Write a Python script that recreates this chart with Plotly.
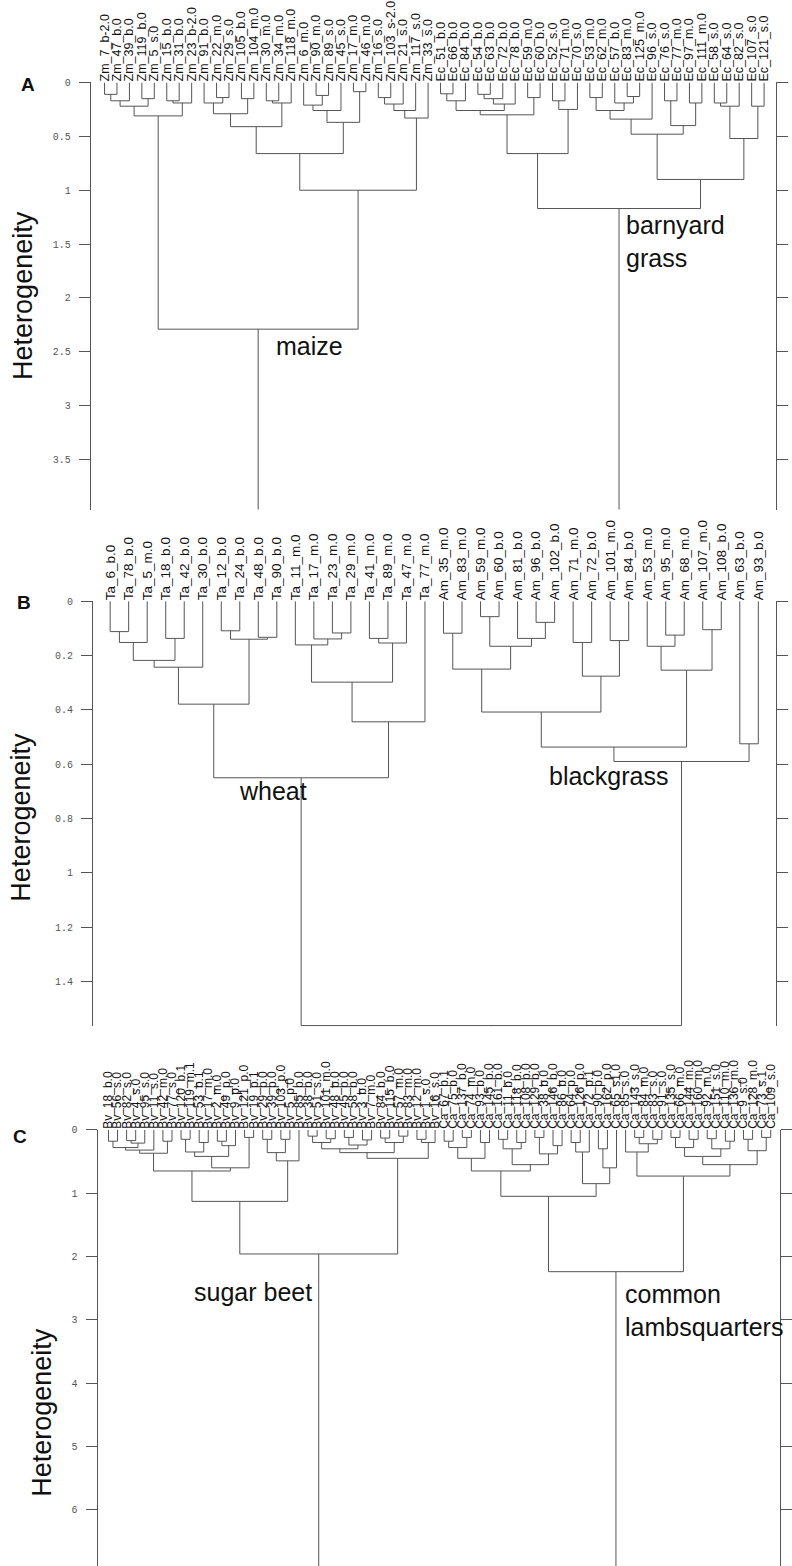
import plotly.graph_objects as go

W, H = 792, 1566

labels_A = [
    "Zm_7_b-2.0", "Zm_47_b.0", "Zm_39_b.0", "Zm_119_b.0", "Zm_5_s.0", "Zm_15_b.0", "Zm_31_b.0",
    "Zm_23_b-2.0", "Zm_91_b.0", "Zm_22_m.0", "Zm_29_s.0", "Zm_105_b.0", "Zm_104_m.0", "Zm_30_m.0",
    "Zm_34_m.0", "Zm_118_m.0", "Zm_6_m.0", "Zm_90_m.0", "Zm_89_s.0", "Zm_45_s.0", "Zm_17_m.0",
    "Zm_46_m.0", "Zm_16_s.0", "Zm_103_s-2.0", "Zm_21_s.0", "Zm_117_s.0", "Zm_33_s.0",
    "Ec_51_b.0", "Ec_66_b.0", "Ec_84_b.0", "Ec_54_b.0", "Ec_63_b.0", "Ec_72_b.0", "Ec_78_b.0",
    "Ec_59_m.0", "Ec_60_b.0", "Ec_52_s.0", "Ec_71_m.0", "Ec_70_s.0", "Ec_53_m.0", "Ec_62_m.0",
    "Ec_57_b.0", "Ec_83_m.0", "Ec_125_m.0", "Ec_96_s.0", "Ec_76_s.0", "Ec_77_m.0", "Ec_97_m.0",
    "Ec_111_m.0", "Ec_58_s.0", "Ec_64_s.0", "Ec_82_s.0", "Ec_107_s.0", "Ec_121_s.0",
]
# merges: (node name, left child, right child, height); ints are leaf indices
merges_A = [
    ("a1", 0, 1, 0.11), ("a2", "a1", 2, 0.17), ("a3", 3, 4, 0.15), ("a4", "a2", "a3", 0.22),
    ("a5", 5, 6, 0.17), ("a6", "a5", 7, 0.19), ("a7", "a4", "a6", 0.31),
    ("a8", 9, 10, 0.14), ("a9", 8, "a8", 0.19), ("a10", 11, 12, 0.15), ("a11", "a9", "a10", 0.29),
    ("a12", 13, 14, 0.17), ("a13", "a12", 15, 0.19), ("a14", "a11", "a13", 0.41),
    ("a15", 17, 18, 0.12), ("a16", 16, "a15", 0.21), ("a17", "a16", 19, 0.26),
    ("a18", 20, 21, 0.085), ("a19", "a17", "a18", 0.37), ("a20", "a14", "a19", 0.66),
    ("a21", 22, 23, 0.14), ("a22", "a21", 24, 0.20), ("a23", "a22", 25, 0.26), ("a24", "a23", 26, 0.33),
    ("a25", "a20", "a24", 1.0), ("a26", "a7", "a25", 2.29),
    ("e1", 27, 28, 0.105), ("e2", "e1", 29, 0.17), ("e3", 30, 31, 0.11), ("e4", "e3", 32, 0.15),
    ("e5", "e4", 33, 0.20), ("e6", "e2", "e5", 0.26), ("e7", 34, 35, 0.14), ("e8", "e6", "e7", 0.30),
    ("e9", 36, 37, 0.17), ("e10", "e9", 38, 0.25), ("e11", "e8", "e10", 0.66),
    ("e12", 39, 40, 0.14), ("e13", 42, 43, 0.13), ("e14", 41, "e13", 0.19), ("e15", "e12", "e14", 0.26),
    ("e16", "e15", 44, 0.34), ("e17", 45, 46, 0.17), ("e18", 47, 48, 0.19), ("e19", "e17", "e18", 0.40),
    ("e20", "e16", "e19", 0.48), ("e21", 49, 50, 0.19), ("e22", "e21", 51, 0.22), ("e23", 52, 53, 0.22),
    ("e24", "e22", "e23", 0.52), ("e25", "e20", "e24", 0.90), ("e26", "e11", "e25", 1.17),
]
roots_A = ["a26", "e26"]
yticks_A = [0, 0.5, 1, 1.5, 2, 2.5, 3, 3.5]
ytext_A = ["0", "0.5", "1", "1.5", "2", "2.5", "3", "3.5"]
ymax_A = 3.966

labels_B = [
    "Ta_6_b.0", "Ta_78_b.0", "Ta_5_m.0", "Ta_18_b.0", "Ta_42_b.0", "Ta_30_b.0", "Ta_12_b.0",
    "Ta_24_b.0", "Ta_48_b.0", "Ta_90_b.0", "Ta_11_m.0", "Ta_17_m.0", "Ta_23_m.0", "Ta_29_m.0",
    "Ta_41_m.0", "Ta_89_m.0", "Ta_47_m.0", "Ta_77_m.0",
    "Am_35_m.0", "Am_83_m.0", "Am_59_m.0", "Am_60_b.0", "Am_81_b.0", "Am_96_b.0", "Am_102_b.0",
    "Am_71_m.0", "Am_72_b.0", "Am_101_m.0", "Am_84_b.0", "Am_53_m.0", "Am_95_m.0", "Am_68_m.0",
    "Am_107_m.0", "Am_108_b.0", "Am_63_b.0", "Am_93_b.0",
]
merges_B = [
    ("w1", 0, 1, 0.112), ("w2", "w1", 2, 0.152), ("w3", 3, 4, 0.137), ("w4", "w2", "w3", 0.218),
    ("w5", "w4", 5, 0.243), ("w6", 6, 7, 0.109), ("w7", 8, 9, 0.133), ("w8", "w6", "w7", 0.14),
    ("w9", "w5", "w8", 0.379), ("w10", 12, 13, 0.117), ("w11", 11, "w10", 0.139),
    ("w12", 10, "w11", 0.161), ("w13", 14, 15, 0.137), ("w14", "w13", 16, 0.154),
    ("w15", "w12", "w14", 0.298), ("w16", "w15", 17, 0.444), ("w17", "w9", "w16", 0.65),
    ("b1", 18, 19, 0.118), ("b2", 20, 21, 0.057), ("b3", 23, 24, 0.078), ("b4", 22, "b3", 0.137),
    ("b5", "b2", "b4", 0.166), ("b6", "b1", "b5", 0.25), ("b7", 25, 26, 0.152), ("b8", 27, 28, 0.145),
    ("b9", "b7", "b8", 0.276), ("b10", "b6", "b9", 0.408), ("b11", 30, 31, 0.125),
    ("b12", 29, "b11", 0.166), ("b13", 32, 33, 0.105), ("b14", "b12", "b13", 0.254),
    ("b15", "b10", "b14", 0.537), ("b16", 34, 35, 0.525), ("b17", "b15", "b16", 0.59),
    ("rB", "w17", "b17", 1.562),
]
roots_B = ["rB"]
yticks_B = [0, 0.2, 0.4, 0.6, 0.8, 1.0, 1.2, 1.4]
ytext_B = ["0", "0.2", "0.4", "0.6", "0.8", "1", "1.2", "1.4"]
ymax_B = 1.565

labels_C = [
    "Bv_18_b.0", "Bv_56_s.0", "Bv_82_s.0", "Bv_4_s.0", "Bv_95_s.0", "Bv_11_s.0", "Bv_42_m.0",
    "Bv_77_s.0", "Bv_120_b.1", "Bv_119_m.1", "Bv_53_b.1", "Bv_17_m.0", "Bv_2_m.0", "Bv_49_p.0",
    "Bv_9_p.0", "Bv_121_p.0", "Bv_19_p.1", "Bv_29_p.0", "Bv_39_p.0", "Bv_103_p.0", "Bv_5_p.0",
    "Bv_85_b.0", "Bv_38_b.0", "Bv_51_s.0", "Bv_101_m.0", "Bv_48_b.0", "Bv_45_b.0", "Bv_58_b.0",
    "Bv_3_b.0", "Bv_7_m.0", "Bv_84_b.0", "Bv_115_b.0", "Bv_57_m.0", "Bv_83_m.0", "Bv_12_m.0",
    "Bv_1_s.0", "Bv_16_s.0",
    "Ca_67_b.1", "Ca_75_b.0", "Ca_137_b.0", "Ca_74_m.0", "Ca_93_b.0", "Ca_145_b.0", "Ca_161_b.0",
    "Ca_11_b.0", "Ca_118_b.0", "Ca_108_b.0", "Ca_129_b.0", "Ca_38_b.0", "Ca_146_b.0", "Ca_86_b.0",
    "Ca_64_p.0", "Ca_126_p.0", "Ca_72_p.1", "Ca_90_p.0", "Ca_162_p.0", "Ca_65_s1.0", "Ca_85_s.0",
    "Ca_143_s.0", "Ca_84_m.0", "Ca_83_s.0", "Ca_91_s.0", "Ca_135_s.0", "Ca_66_m.0", "Ca_144_m.0",
    "Ca_160_m.0", "Ca_92_m.0", "Ca_151_s.0", "Ca_110_m.0", "Ca_136_m.0", "Ca_9_s.0", "Ca_128_m.0",
    "Ca_73_s.1", "Ca_109_s.0",
]
merges_C = [
    ("c1", 0, 1, 0.18), ("c2", 2, 3, 0.17), ("c3", "c2", 4, 0.21), ("c4", "c1", "c3", 0.28),
    ("c5", "c4", 5, 0.32), ("c6", 6, 7, 0.18), ("c7", "c5", "c6", 0.37),
    ("c8", 8, 9, 0.15), ("c9", 10, 11, 0.20), ("c10", "c8", "c9", 0.35), ("c11", 12, 13, 0.18),
    ("c12", "c11", 14, 0.25), ("c13", "c10", "c12", 0.42), ("c14", 15, 16, 0.12),
    ("c15", "c13", "c14", 0.60), ("c16", "c7", "c15", 0.65),
    ("c17", 17, 18, 0.15), ("c18", 19, 20, 0.15), ("c19", "c17", "c18", 0.36), ("c20", "c19", 21, 0.49),
    ("c21", "c16", "c20", 1.13),
    ("c22", 22, 23, 0.10), ("c23", 24, 25, 0.14), ("c24", "c22", "c23", 0.20), ("c25", 26, 27, 0.12),
    ("c26", 28, 29, 0.16), ("c27", "c25", "c26", 0.24), ("c28", "c24", "c27", 0.30),
    ("c29", 30, 31, 0.13), ("c30", 32, 33, 0.10), ("c31", "c29", "c30", 0.20), ("c32", "c28", "c31", 0.36),
    ("c33", 34, 35, 0.15), ("c34", "c33", 36, 0.20), ("c35", "c32", "c34", 0.45),
    ("c36", "c21", "c35", 1.96),
    ("d1", 37, 38, 0.18), ("d2", 39, 40, 0.12), ("d3", "d1", "d2", 0.28), ("d4", 41, 42, 0.20),
    ("d5", "d3", "d4", 0.45), ("d6", 43, 44, 0.15), ("d7", 45, 46, 0.20), ("d8", "d6", "d7", 0.30),
    ("d9", 47, 48, 0.12), ("d10", 49, 50, 0.25), ("d11", "d9", "d10", 0.38), ("d12", "d8", "d11", 0.55),
    ("d13", "d5", "d12", 0.65), ("d14", 51, 52, 0.20), ("d15", "d14", 53, 0.35), ("d16", 54, 55, 0.30),
    ("d17", "d16", 56, 0.60), ("d18", "d15", "d17", 0.85), ("d19", "d13", "d18", 1.05),
    ("d20", 58, 59, 0.12), ("d21", 60, 61, 0.15), ("d22", "d20", "d21", 0.22), ("d23", 57, "d22", 0.35),
    ("d24", 62, 63, 0.12), ("d25", 64, 65, 0.15), ("d26", "d24", "d25", 0.28), ("d27", 66, 67, 0.14),
    ("d28", 68, 69, 0.18), ("d29", "d27", "d28", 0.30), ("d30", "d26", "d29", 0.42),
    ("d31", 70, 71, 0.15), ("d32", 72, 73, 0.12), ("d33", "d31", "d32", 0.33),
    ("d34", "d30", "d33", 0.55), ("d35", "d23", "d34", 0.73), ("d36", "d19", "d35", 2.24),
]
roots_C = ["c36", "d36"]
yticks_C = [0, 1, 2, 3, 4, 5, 6]
ytext_C = ["0", "1", "2", "3", "4", "5", "6"]
ymax_C = 6.887

group_names = ["maize", "barnyard<br>grass", "wheat", "blackgrass", "sugar beet", "common<br>lambsquarters"]
panel_letters = ["A", "B", "C"]
y_title = "Heterogeneity"


def build(merges, roots, stem_to):
    pos, hgt = {}, {}
    P = lambda k: pos[k] if isinstance(k, str) else float(k)
    Q = lambda k: hgt[k] if isinstance(k, str) else 0.0
    xs, ys = [], []
    for name, a, b, h in merges:
        xa, xb = P(a), P(b)
        xs += [xa, xa, xb, xb, None]
        ys += [Q(a), h, h, Q(b), None]
        pos[name] = (xa + xb) / 2
        hgt[name] = h
    for r in roots:
        if hgt[r] < stem_to:
            xs += [pos[r], pos[r], None]
            ys += [hgt[r], stem_to, None]
    return xs, ys


LINE = "#555555"
fig = go.Figure()

panels = [
    dict(labels=labels_A, merges=merges_A, roots=roots_A, ymax=ymax_A, yt=yticks_A, ytt=ytext_A,
         xl=92, xr=787, yt_px=78.7, yb_px=507, leaf0=106, step=12.62, fs=12.5),
    dict(labels=labels_B, merges=merges_B, roots=roots_B, ymax=ymax_B, yt=yticks_B, ytt=ytext_B,
         xl=94.3, xr=787.3, yt_px=598.7, yb_px=1025, leaf0=111.7, step=18.78, fs=13.5),
    dict(labels=labels_C, merges=merges_C, roots=roots_C, ymax=ymax_C, yt=yticks_C, ytt=ytext_C,
         xl=99, xr=791, yt_px=1128.7, yb_px=1566, leaf0=110, step=9.2, fs=12),
]

layout = {}
for i, p in enumerate(panels, start=1):
    sfx = "" if i == 1 else str(i)
    xs, ys = build(p["merges"], p["roots"], p["ymax"])
    fig.add_trace(go.Scatter(x=xs, y=ys, mode="lines", line=dict(color=LINE, width=1),
                             hoverinfo="skip", showlegend=False,
                             xaxis="x" + sfx, yaxis="y" + sfx))
    n = len(p["labels"])
    x0 = (p["xl"] - p["leaf0"]) / p["step"]
    x1 = (p["xr"] - p["leaf0"]) / p["step"]
    layout["xaxis" + sfx] = dict(
        domain=[p["xl"] / W, p["xr"] / W], range=[x0, x1], anchor="y" + sfx,
        side="top", tickmode="array", tickvals=list(range(n)), ticktext=p["labels"],
        tickangle=-90, ticks="", showline=False, showgrid=False, zeroline=False,
        tickfont=dict(family="Liberation Sans, Arial", size=p["fs"], color="#111"),
    )
    layout["yaxis" + sfx] = dict(
        domain=[1 - p["yb_px"] / H, 1 - p["yt_px"] / H], range=[p["ymax"], 0], anchor="x" + sfx,
        tickmode="array", tickvals=p["yt"], ticktext=p["ytt"],
        ticks="outside", ticklen=11, tickcolor=LINE, tickwidth=1,
        showline=True, linecolor=LINE, linewidth=1, mirror="ticks",
        showgrid=False, zeroline=False, ticklabelstandoff=6,
        tickfont=dict(family="Liberation Mono, Courier New", size=10, color="#555"),
    )

fig.update_layout(**layout)


def ann(text, px, py, size, xanchor="left", yanchor="middle", angle=0, bold=False, align="left"):
    fig.add_annotation(
        text=("<b>%s</b>" % text) if bold else text, x=px / W, y=1 - py / H,
        xref="paper", yref="paper", xanchor=xanchor, yanchor=yanchor, showarrow=False,
        textangle=angle, align=align,
        font=dict(family="Liberation Sans, Arial", size=size, color="#111"))


ann(group_names[0], 278, 343, 25)
ann(group_names[1], 633, 238, 25)
ann(group_names[2], 240, 789, 25)
ann(group_names[3], 555, 774, 25)
ann(group_names[4], 195, 1291, 25)
ann(group_names[5], 632, 1310, 25)

ann(panel_letters[0], 28, 81, 19, xanchor="center", bold=True)
ann(panel_letters[1], 24, 600, 19, xanchor="center", bold=True)
ann(panel_letters[2], 20, 1135, 19, xanchor="center", bold=True)

ann(y_title, 24, 292, 27, xanchor="center", angle=-90)
ann(y_title, 21, 815, 27, xanchor="center", angle=-90)
ann(y_title, 43, 1412, 27, xanchor="center", angle=-90)

fig.update_layout(width=W, height=H, margin=dict(l=0, r=0, t=0, b=0),
                  paper_bgcolor="white", plot_bgcolor="white", showlegend=False)

fig.write_html("out.html")
